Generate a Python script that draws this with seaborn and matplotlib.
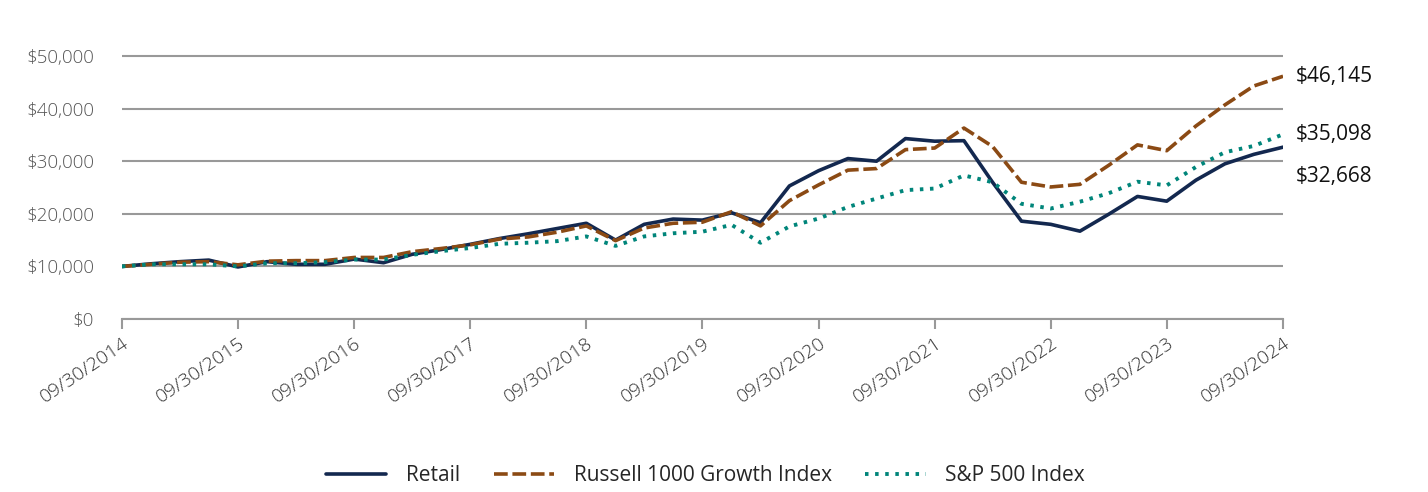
import matplotlib
matplotlib.use("Agg")
import matplotlib.pyplot as plt
import seaborn as sns
import pandas as pd

dates = pd.date_range("2014-09-30", periods=41, freq="QE-DEC")

retail = [10000, 10500, 10900, 11200, 9900, 10900, 10400, 10400, 11400, 10700,
          12300, 13200, 14200, 15300, 16200, 17200, 18200, 15000, 18000, 19000,
          18800, 20200, 18300, 25300, 28200, 30500, 30000, 34300, 33800, 33900,
          26000, 18600, 18000, 16700, 19900, 23300, 22400, 26400, 29500, 31300,
          32668]
russell = [10000, 10400, 10800, 10900, 10300, 11000, 11100, 11100, 11700, 11700,
           12800, 13400, 14100, 15200, 15600, 16500, 17700, 14900, 17300, 18200,
           18400, 20400, 17700, 22500, 25500, 28300, 28600, 32200, 32500, 36300,
           32800, 26000, 25100, 25600, 29200, 33100, 32000, 36700, 40700, 44300,
           46145]
sp500 = [10000, 10400, 10400, 10400, 10000, 10600, 10600, 10800, 11300, 11300,
         12200, 12900, 13500, 14300, 14500, 14800, 15700, 13900, 15700, 16300,
         16600, 17900, 14500, 17600, 19100, 21300, 22900, 24500, 24800, 27300,
         26000, 21900, 21000, 22300, 23900, 26100, 25400, 28900, 31700, 32900,
         35098]

series = ["Retail", "Russell 1000 Growth Index", "S&P 500 Index"]
colors = ["#13284f", "#8b4a14", "#00857a"]
end_labels = ["$32,668", "$46,145", "$35,098"]

sns.set_theme(style="white")
plt.rcParams["font.family"] = ["Open Sans", "DejaVu Sans"]

fig = plt.figure(figsize=(14.28, 4.92), dpi=100)
ax = fig.add_axes([0.0854, 0.3516, 0.8131, 0.556])

sns.lineplot(x=dates, y=retail, ax=ax, color=colors[0], lw=2.6, label=series[0])
sns.lineplot(x=dates, y=russell, ax=ax, color=colors[1], lw=2.6, label=series[1])
sns.lineplot(x=dates, y=sp500, ax=ax, color=colors[2], lw=2.8, label=series[2])
ax.lines[1].set_dashes([3.8, 1.3])
ax.lines[2].set_dashes([0.9, 1.7])
ax.set_xlabel("")
ax.set_ylabel("")

ax.set_xlim(dates[0], dates[-1])
ax.set_ylim(0, 52000)
ax.set_yticks(range(0, 50001, 10000))
ax.set_yticklabels([f"${v:,}" for v in range(0, 50001, 10000)], color="#555555",
                   fontsize=13.5, fontweight="light")
ax.yaxis.grid(True, color="#999999", lw=1.5)
ax.set_axisbelow(True)
ax.tick_params(axis="y", length=0, pad=20)

ticks = [d for d in dates if d.month == 9]
ax.set_xticks(ticks)
ax.set_xticklabels([d.strftime("%m/%d/%Y") for d in ticks], rotation=34, ha="right",
                   rotation_mode="anchor", color="#333333", fontsize=14, fontweight="light")
ax.tick_params(axis="x", length=7, width=1.5, color="#999999", bottom=True, pad=4)

for s in ["top", "right", "left"]:
    ax.spines[s].set_visible(False)
ax.spines["bottom"].set_color("#999999")
ax.spines["bottom"].set_linewidth(1.5)

ax.annotate(end_labels[1], (dates[-1], russell[-1]), xytext=(9, 0), textcoords="offset points",
            va="center", fontsize=15, color="#111111", annotation_clip=False)
ax.annotate(end_labels[2], (dates[-1], sp500[-1]), xytext=(9, 0), textcoords="offset points",
            va="center", fontsize=15, color="#111111", annotation_clip=False)
ax.annotate(end_labels[0], (dates[-1], retail[-1]), xytext=(9, -21), textcoords="offset points",
            va="center", fontsize=15, color="#111111", annotation_clip=False)

ax.get_legend().remove()
handles, labels = ax.get_legend_handles_labels()
fig.legend(handles, labels, loc="center", bbox_to_anchor=(0.494, 0.033), ncol=3, frameon=False,
           fontsize=15, handlelength=2.9, columnspacing=1.6, handletextpad=0.95)

fig.savefig("out.png", dpi=100)
